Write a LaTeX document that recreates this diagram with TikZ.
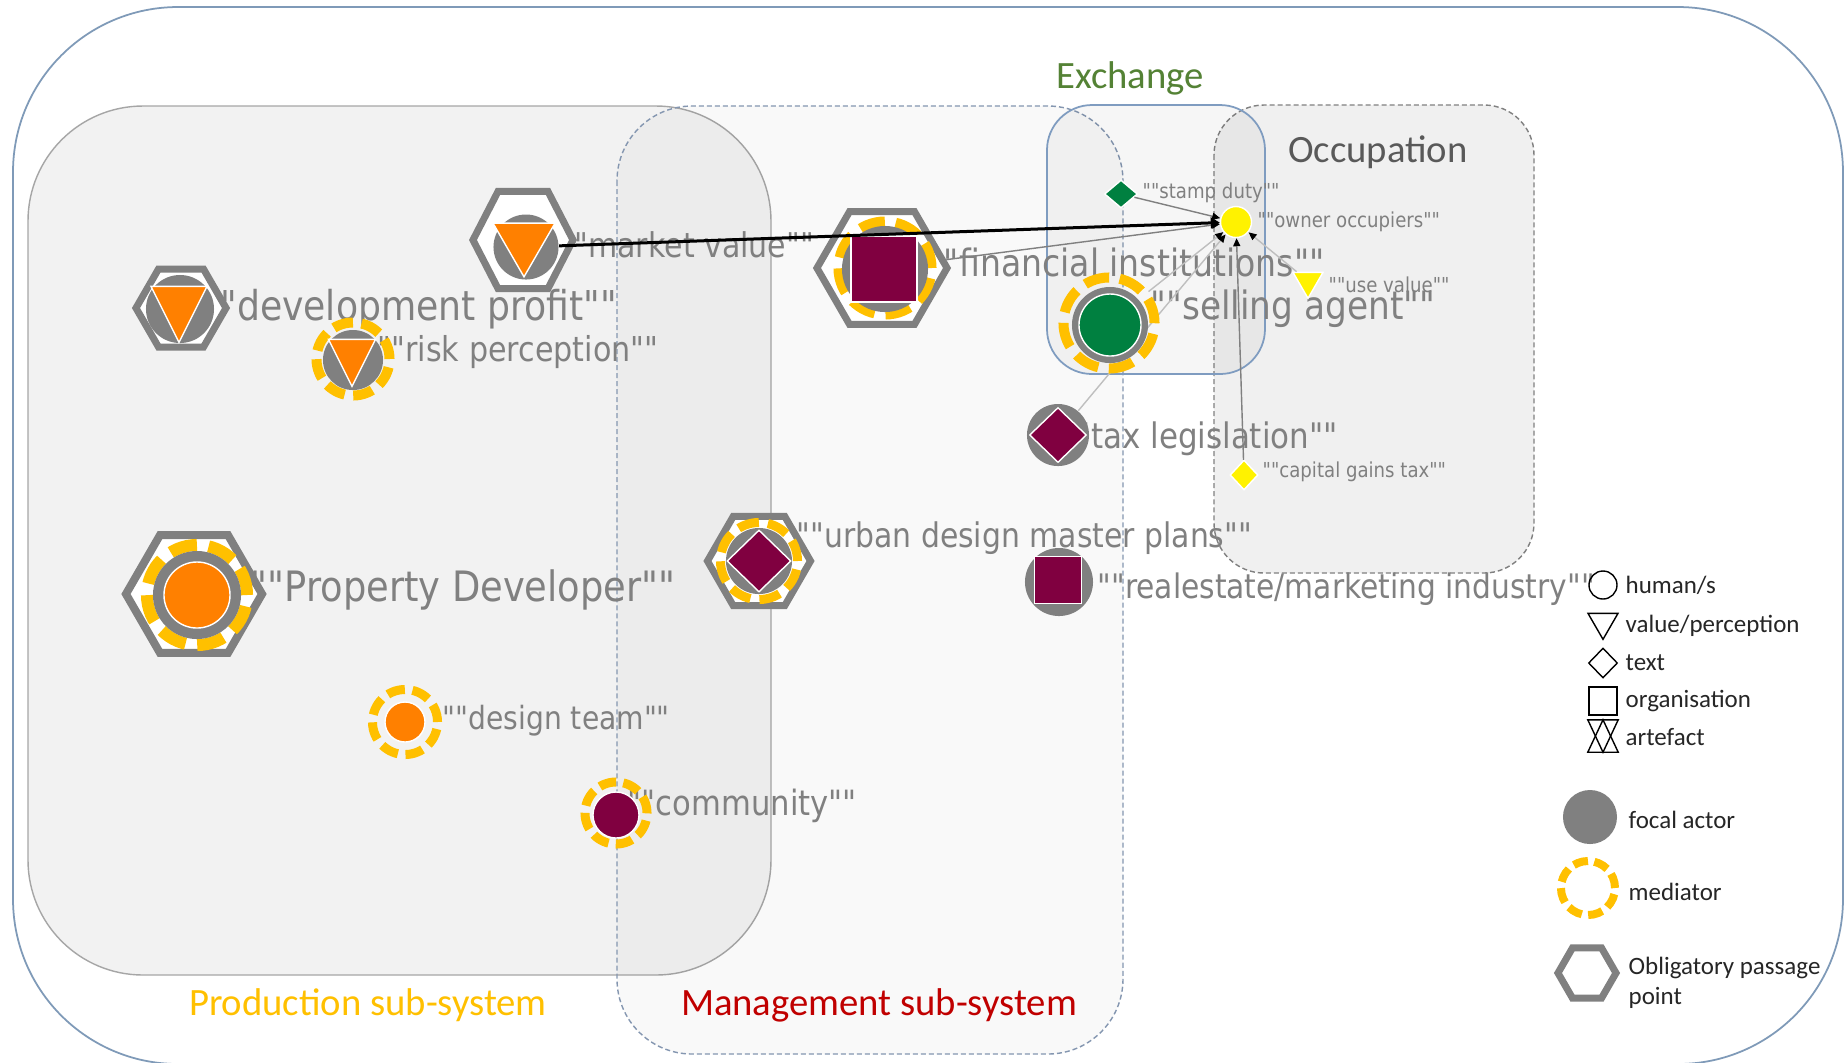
\documentclass[tikz,border=0pt]{standalone}
\usepackage{fontspec}
\setmainfont{Carlito}
\newfontfamily\lblfont[FakeStretch=0.88]{DejaVu Sans}
\usetikzlibrary{shapes.geometric,arrows.meta}
\definecolor{focgrey}{HTML}{808080}
\definecolor{medyellow}{HTML}{FFC000}
\definecolor{valorange}{HTML}{FF8000}
\definecolor{orgmaroon}{HTML}{800040}
\definecolor{agentgreen}{HTML}{008040}
\definecolor{lblgrey}{HTML}{808080}
\definecolor{exgreen}{HTML}{548235}
\definecolor{mgred}{HTML}{C00000}
\definecolor{occgrey}{HTML}{595959}
\definecolor{framecol}{HTML}{7F9AB8}
\definecolor{exborder}{HTML}{7F9CC0}
\definecolor{dashcol}{HTML}{8496B0}
\definecolor{prodline}{HTML}{A6A6A6}
\definecolor{linegrey}{HTML}{808080}
\definecolor{lightline}{HTML}{BFBFBF}
\begin{document}
\begin{tikzpicture}[
        x=0.01cm, y=-0.01cm,
        title/.style={font=\fontsize{11pt}{13pt}\selectfont},
        lbl/.style={anchor=west, inner sep=0pt, text=lblgrey, font=\lblfont\fontsize{#1}{#1}\selectfont},
        opp/.style={regular polygon, regular polygon sides=6, draw=focgrey, fill=white, line width=0.07cm, inner sep=0pt, minimum size=#1},
        focal/.style={circle, fill=focgrey, inner sep=0pt, minimum size=#1},
        ring/.style n args={4}{circle, draw=medyellow, line width=#2, inner sep=0pt, minimum size=#1, dash pattern=on #3 off #4},
        human/.style={circle, draw=white, line width=0.4pt, inner sep=0pt, minimum size=#1},
        org/.style={rectangle, draw=white, line width=0.4pt, inner sep=0pt, minimum size=#1},
        txt/.style 2 args={diamond, draw=white, line width=0.4pt, inner sep=0pt, minimum width=#1, minimum height=#2},
        val/.style={regular polygon, regular polygon sides=3, shape border rotate=180, fill=valorange, draw=white, line width=0.4pt, inner sep=0pt, minimum size=#1},
        link/.style={draw=lightline, line width=0.4pt, -{Triangle[length=0.08cm, width=0.07cm, black]}},
        legend/.style={anchor=west, inner sep=0pt, text=black!85, font=\fontsize{7.1pt}{8.6pt}\selectfont},
        sym/.style={draw=black, line width=0.4pt, inner sep=0pt},
    ]
    \useasboundingbox (0,0) rectangle (1847,1062);
    \fill[white] (0,0) rectangle (1847,1062);
    \draw[framecol, line width=0.5pt, rounded corners=1.65cm] (13,7) rectangle (1843,1064);

    % sub-systems
    \filldraw[draw=prodline, line width=0.4pt, fill=black, fill opacity=0.05, rounded corners=1.15cm] (28,106) rectangle (771,975);
    \filldraw[draw=dashcol, line width=0.4pt, dash pattern=on 0.05cm off 0.03cm, fill=black, fill opacity=0.025, rounded corners=0.75cm] (617,106) rectangle (1123,1054);
    \filldraw[draw=focgrey, line width=0.4pt, dash pattern=on 0.05cm off 0.03cm, fill=black, fill opacity=0.06, rounded corners=0.5cm] (1214,105) rectangle (1534,573);
    \filldraw[draw=exborder, line width=0.5pt, fill=black, fill opacity=0.035, rounded corners=0.45cm] (1047,105) rectangle (1265,374);

    \node[title, text=exgreen] (exch) at (1130,78) {Exchange};
    \node[title, text=occgrey] (occ) at (1378,152) {Occupation};
    \node[title, text=medyellow] (prod) at (368,1005) {Production sub-system};
    \node[title, text=mgred] (mgmt) at (879,1005) {Management sub-system};

    % labels
    \node[lbl=11.7pt] (dp-l) at (203,309) {""development profit""};
    \node[lbl=9.75pt] (rp-l) at (377,352) {""risk perception""};
    \node[lbl=9.7pt] (mv-l) at (560,245) {""market value""};
    \node[lbl=10.7pt] (fi-l) at (928,262) {""financial institutions""};
    \node[lbl=11.1pt] (sa-l) at (1150,309) {""selling agent""};
    \node[lbl=10pt] (tl-l) at (1062,439) {""tax legislation""};
    \node[lbl=9.65pt] (ud-l) at (796,538) {""urban design master plans""};
    \node[lbl=9.6pt] (re-l) at (1097,589) {""realestate/marketing industry""};
    \node[lbl=11.9pt] (pd-l) at (250,590) {""Property Developer""};
    \node[lbl=9.1pt] (dt-l) at (442,721) {""design team""};
    \node[lbl=9.9pt] (co-l) at (627,806) {""community""};
    \node[lbl=5.86pt] (sd-l) at (1142,193) {""stamp duty""};
    \node[lbl=5.86pt] (oo-l) at (1257,222) {""owner occupiers""};
    \node[lbl=5.86pt] (uv-l) at (1328,285) {""use value""};
    \node[lbl=5.86pt] (cg-l) at (1262,472) {""capital gains tax""};

    % actors
    \node[txt={0.33cm}{0.28cm}, fill=agentgreen] (sd) at (1121,194) {};
    \node[human=0.31cm, fill=yellow] (oo) at (1236,222) {};
    \node[val=0.346cm, fill=yellow] (uv) at (1308,281) {};
    \node[txt={0.28cm}{0.30cm}, fill=yellow] (cg) at (1244,475) {};

    \node[focal=0.62cm] (tl) at (1058,435) {};
    \node[txt={0.57cm}{0.55cm}, fill=orgmaroon] (tl-t) at (1058,435) {};
    \draw[link] (tl) -- (oo);

    \node[opp=0.90cm] (dp) at (181,308) {};
    \node[focal=0.68cm] (dp-c) at (180,309) {};
    \begin{scope}[shift={(179,305)}, yscale=1.155]
        \node[val=0.647cm, transform shape] (dp-v) at (0,0) {};
    \end{scope}

    \begin{scope}[shift={(523,240)}, yscale=1.12]
        \node[opp=1.0cm, transform shape] (mv) at (0,0) {};
    \end{scope}
    \node[focal=0.65cm] (mv-c) at (526,247) {};
    \node[val=0.716cm] (mv-v) at (524,241) {};

    \node[ring={0.73cm}{0.10cm}{0.20cm}{0.087cm}] (rp) at (353,359) {};
    \node[focal=0.60cm] (rp-c) at (353,360) {};
    \begin{scope}[shift={(352,355)}, yscale=1.155]
        \node[val=0.543cm, transform shape] (rp-v) at (0,0) {};
    \end{scope}

    \node[opp=1.36cm, line width=0.08cm] (pd) at (194,594) {};
    \node[ring={1.00cm}{0.12cm}{0.275cm}{0.118cm}] (pd-m) at (197,595) {};
    \node[focal=0.88cm] (pd-c) at (197,595) {};
    \node[human=0.66cm, fill=valorange] (pd-h) at (197,595) {};

    \node[ring={0.65cm}{0.09cm}{0.179cm}{0.077cm}] (dt) at (405,722) {};
    \node[human=0.40cm, fill=valorange] (dt-h) at (405,722) {};

    \node[ring={0.62cm}{0.09cm}{0.17cm}{0.073cm}] (co) at (616,813) {};
    \node[human=0.46cm, fill=orgmaroon] (co-h) at (616,815) {};

    \node[opp=1.03cm] (ud) at (759,561) {};
    \node[ring={0.77cm}{0.09cm}{0.212cm}{0.091cm}] (ud-m) at (759,561) {};
    \node[focal=0.66cm] (ud-c) at (759,561) {};
    \node[txt={0.64cm}{0.62cm}, fill=orgmaroon] (ud-t) at (759,561) {};

    \node[focal=0.68cm] (re) at (1059,582) {};
    \node[org=0.47cm, fill=orgmaroon] (re-o) at (1058,580) {};

    \node[opp=1.30cm] (fi) at (882,268) {};
    \node[ring={0.93cm}{0.10cm}{0.256cm}{0.11cm}] (fi-m) at (885,268) {};
    \node[focal=0.86cm] (fi-c) at (885,269) {};
    \node[org=0.66cm, fill=orgmaroon] (fi-o) at (884,269) {};

    \node[ring={0.91cm}{0.10cm}{0.25cm}{0.107cm}] (sa) at (1109,323) {};
    \node[focal=0.76cm] (sa-c) at (1110,325) {};
    \node[human=0.62cm, fill=agentgreen] (sa-h) at (1110,325) {};

    % links to owner occupiers
    \draw[link, draw=linegrey] (sd) -- (oo);
    \draw[link, draw=linegrey] (fi) -- (oo);
    \draw[link] (sa) -- (oo);
    \draw[link] (uv) -- (oo);
    \draw[link, draw=linegrey] (cg) -- (oo);
    \draw[black, line width=0.03cm, -{Triangle[length=0.09cm, width=0.11cm]}] (mv-c) -- (oo);

    % legend
    \node[sym, circle, minimum size=0.28cm] (lg-h) at (1603,585) {};
    \node[legend] (lg-hl) at (1625,585) {human/s};
    \node[sym, regular polygon, regular polygon sides=3, shape border rotate=180, minimum size=0.346cm] (lg-v) at (1603,622) {};
    \node[legend] (lg-vl) at (1625,626) {value/perception};
    \node[sym, diamond, minimum width=0.29cm, minimum height=0.30cm] (lg-t) at (1603,663) {};
    \node[legend] (lg-tl) at (1625,663) {text};
    \node[sym, rectangle, minimum size=0.28cm] (lg-o) at (1603,701) {};
    \node[legend] (lg-ol) at (1625,701) {organisation};
    \node[inner sep=0pt, minimum width=0.29cm, minimum height=0.31cm] (lg-a) at (1603,736) {};
    \draw[sym] (lg-a.north west) -- (lg-a.north east) -- (lg-a.south) -- cycle;
    \draw[sym] (lg-a.south west) -- (lg-a.south east) -- (lg-a.north) -- cycle;
    \node[legend] (lg-al) at (1625,737) {artefact};
    \node[focal=0.54cm] (lg-f) at (1590,817) {};
    \node[legend] (lg-fl) at (1628,820) {focal actor};
    \node[ring={0.54cm}{0.08cm}{0.148cm}{0.064cm}] (lg-m) at (1588,888) {};
    \node[legend] (lg-ml) at (1628,892) {mediator};
    \node[opp=0.58cm] (lg-p) at (1587,973) {};
    \node[legend, align=left] (lg-pl) at (1628,983) {Obligatory passage\\point};
\end{tikzpicture}
\end{document}
